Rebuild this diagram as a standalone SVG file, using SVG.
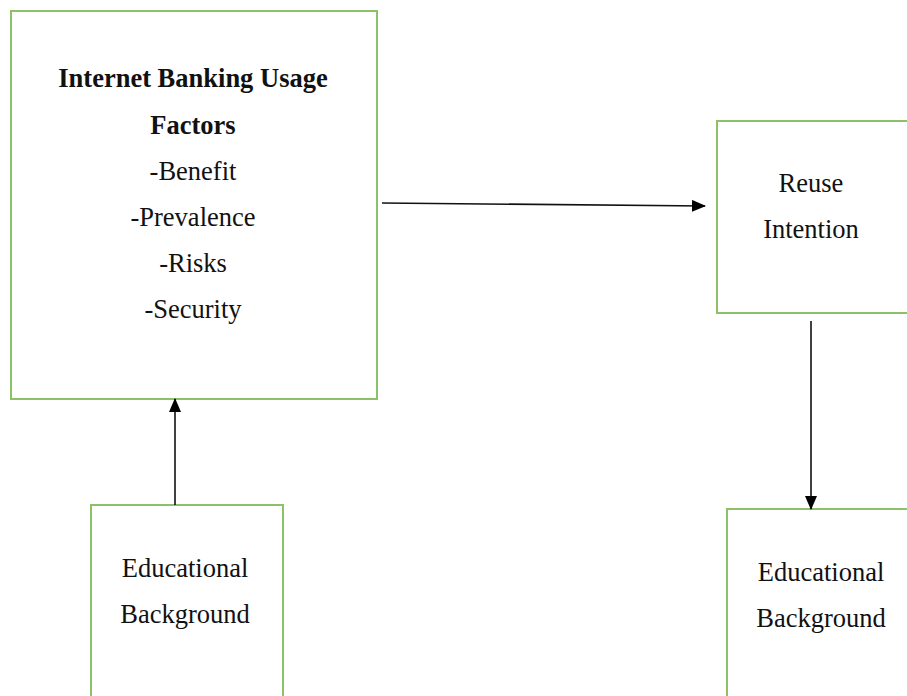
<svg xmlns="http://www.w3.org/2000/svg" width="907" height="696" viewBox="0 0 907 696">
<style>
.box{fill:#fff;stroke:#8cc168;stroke-width:2}
.t{font-family:'Liberation Serif','Times New Roman',serif;font-size:26.5px;fill:#111;text-anchor:middle}
.b{font-weight:bold}
.c{stroke:#111;stroke-width:1.6;fill:none}
</style>
<defs>
<marker id="ah" markerWidth="14" markerHeight="12" refX="13" refY="6" orient="auto" markerUnits="userSpaceOnUse">
<path d="M0,0 L14,6 L0,12 Z" fill="#000"/>
</marker>
</defs>
<rect width="907" height="696" fill="#fff"/>
<g id="n1">
<rect class="box" x="11" y="11" width="366" height="388"/>
<text class="t b" x="193" y="87">Internet Banking Usage</text>
<text class="t b" x="193" y="134">Factors</text>
<text class="t" x="193" y="180">-Benefit</text>
<text class="t" x="193" y="226">-Prevalence</text>
<text class="t" x="193" y="272">-Risks</text>
<text class="t" x="193" y="318">-Security</text>
</g>
<g id="n2">
<rect class="box" x="717" y="121" width="200" height="192"/>
<text class="t" x="811" y="192">Reuse</text>
<text class="t" x="811" y="238">Intention</text>
</g>
<g id="n3">
<rect class="box" x="91" y="505" width="192" height="210"/>
<text class="t" x="185" y="577">Educational</text>
<text class="t" x="185" y="623">Background</text>
</g>
<g id="n4">
<rect class="box" x="727" y="509" width="200" height="210"/>
<text class="t" x="821" y="581">Educational</text>
<text class="t" x="821" y="627">Background</text>
</g>
<g id="connectors">
<line class="c" x1="382" y1="203" x2="705" y2="206" marker-end="url(#ah)"/>
<line class="c" x1="175" y1="505" x2="175" y2="399" marker-end="url(#ah)"/>
<line class="c" x1="811" y1="321" x2="811" y2="509" marker-end="url(#ah)"/>
</g>
</svg>
